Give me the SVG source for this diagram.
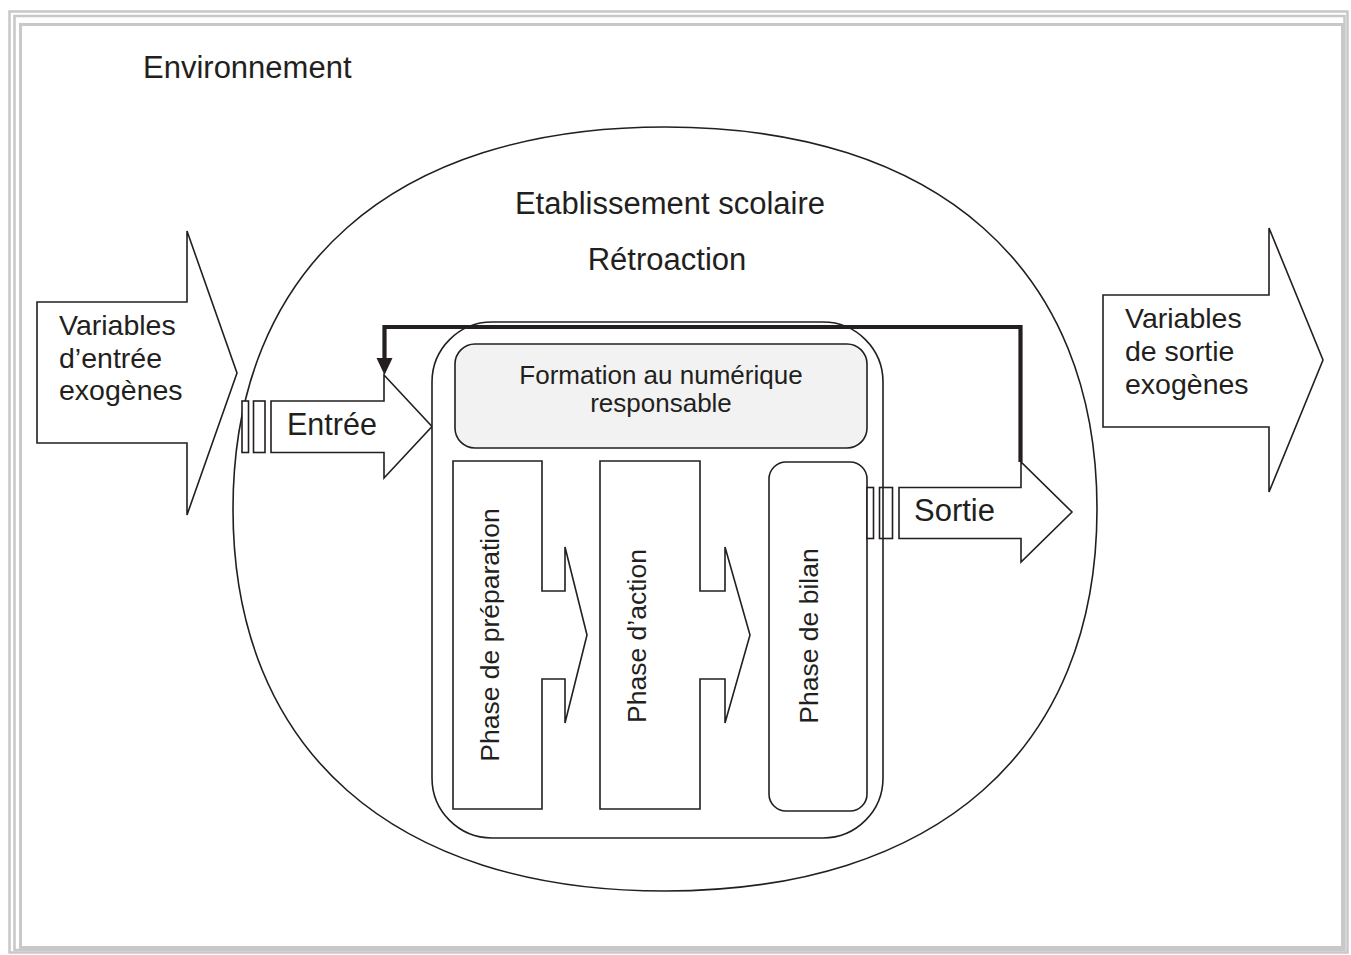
<svg xmlns="http://www.w3.org/2000/svg" width="1351" height="955" viewBox="0 0 1351 955">
<defs>
<style>
.ln{fill:#fff;stroke:#231f20;stroke-width:1.6}
.t{font-family:"Liberation Sans",Arial,sans-serif;fill:#231f20}
.fr{fill:none;stroke:#c8c8c8}
</style>
</defs>
<rect width="1351" height="955" fill="#fff"/>
<g id="frame">
<rect class="fr" x="9.5" y="11.5" width="1338" height="941" stroke-width="2.5"/>
<rect class="fr" x="14.5" y="16" width="1330" height="934" stroke-width="2.5"/>
<rect class="fr" x="20.5" y="24.5" width="1322" height="923" stroke-width="3"/>
</g>
<text class="t" x="143" y="78" font-size="31">Environnement</text>
<g id="etablissement">
<path d="M665,127 C937,127 1097,268.3 1097,509 C1097,749.7 937,891 665,891 C393,891 233,749.7 233,509 C233,268.3 393,127 665,127 Z" fill="none" stroke="#231f20" stroke-width="1.6"/>
<text class="t" x="670" y="214" font-size="31" text-anchor="middle">Etablissement scolaire</text>
</g>
<g id="variables-entree">
<path class="ln" d="M37,302 H187 V231 L237,373 L187,515 V443 H37 Z"/>
<text class="t" font-size="28.5"><tspan x="59" y="335">Variables</tspan><tspan x="59" y="368">d’entrée</tspan><tspan x="59" y="400">exogènes</tspan></text>
</g>
<g id="variables-sortie">
<path class="ln" d="M1103,295 H1269 V228 L1323,360 L1269,492 V427 H1103 Z"/>
<text class="t" font-size="28.5"><tspan x="1125" y="328">Variables</tspan><tspan x="1125" y="361">de sortie</tspan><tspan x="1125" y="394">exogènes</tspan></text>
</g>
<g id="entree">
<rect class="ln" x="242" y="401" width="6.5" height="51.5"/>
<rect class="ln" x="253.5" y="401" width="11.5" height="51.5"/>
<path class="ln" d="M271,401 H384 V375 L432,426.5 L384,478 V452.5 H271 Z"/>
<text class="t" x="287" y="435" font-size="30.5">Entrée</text>
</g>
<g id="systeme">
<rect class="ln" x="432" y="322" width="451" height="516" rx="60"/>
</g>
<g id="formation">
<rect x="455" y="344" width="412" height="104" rx="20" fill="#f2f2f2" stroke="#231f20" stroke-width="1.6"/>
<text class="t" font-size="26" text-anchor="middle"><tspan x="661" y="384">Formation au numérique</tspan><tspan x="661" y="412">responsable</tspan></text>
</g>
<g id="preparation">
<path class="ln" d="M453,461 H542 V591 H565 V547 L587,635 L565,723 V679 H542 V809 H453 Z"/>
<text class="t" font-size="26.5" text-anchor="middle" transform="translate(499,635) rotate(-90)">Phase de préparation</text>
</g>
<g id="action">
<path class="ln" d="M600,461 H700 V591 H725 V547 L750,635 L725,723 V679 H700 V809 H600 Z"/>
<text class="t" font-size="26.5" text-anchor="middle" transform="translate(646,636) rotate(-90)">Phase d’action</text>
</g>
<g id="bilan">
<rect class="ln" x="769" y="462" width="98" height="349" rx="17"/>
<text class="t" font-size="26.5" text-anchor="middle" transform="translate(818,636) rotate(-90)">Phase de bilan</text>
</g>
<g id="sortie">
<rect class="ln" x="867" y="487.5" width="6.5" height="51"/>
<rect x="879.5" y="487.5" width="13" height="51" fill="none" stroke="#231f20" stroke-width="1.6"/>
<path class="ln" d="M899,487.5 H1021 V462 L1072,512 L1021,562 V538.5 H899 Z"/>
<text class="t" x="914" y="521" font-size="31">Sortie</text>
</g>
<g id="connectors">
<path d="M1020.5,462 V327 H384.5 V360" fill="none" stroke="#231f20" stroke-width="4.2"/>
<path d="M376.5,358 H392.5 L384.5,375 Z" fill="#231f20"/>
</g>
<text class="t" x="667" y="270" font-size="31" text-anchor="middle">Rétroaction</text>
</svg>
